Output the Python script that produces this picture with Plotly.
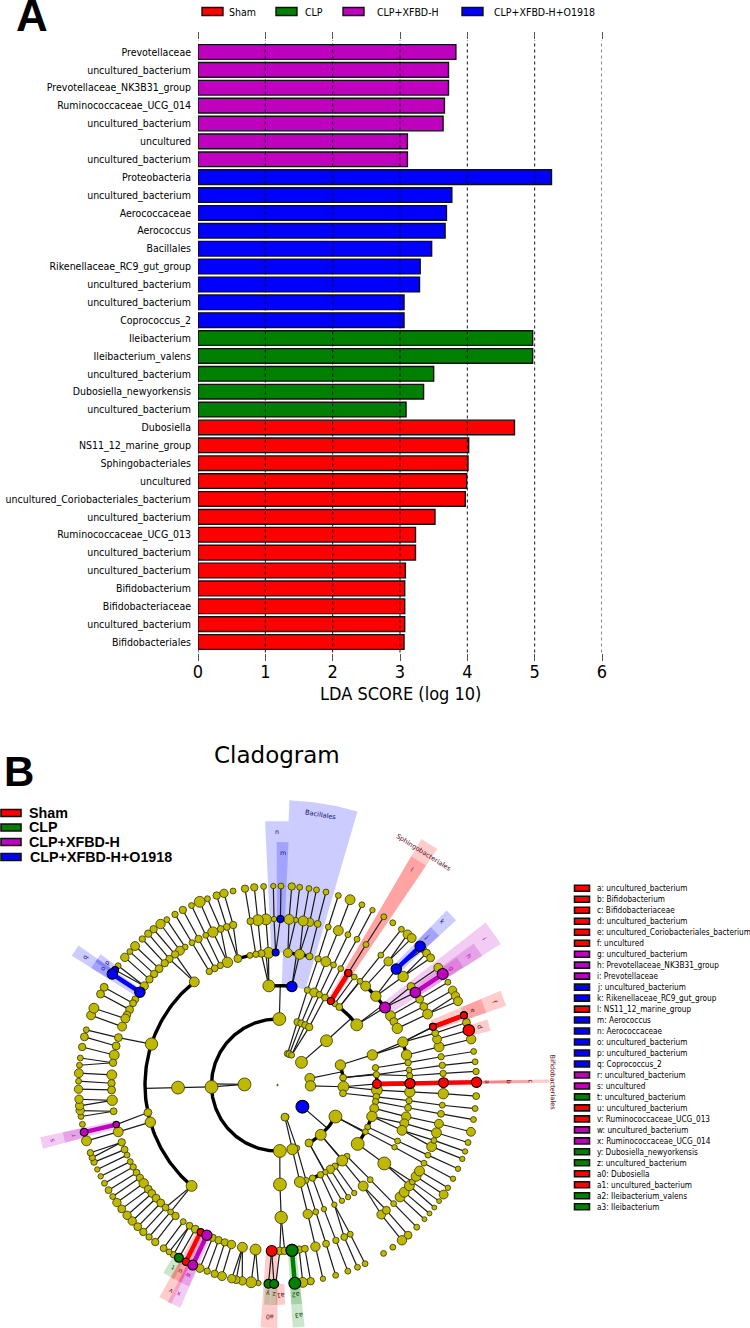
import numpy as np
import plotly.graph_objects as go

# ---------- Panel A data ----------
bar_labels = ["Prevotellaceae","uncultured_bacterium","Prevotellaceae_NK3B31_group","Ruminococcaceae_UCG_014",
 "uncultured_bacterium","uncultured","uncultured_bacterium","Proteobacteria","uncultured_bacterium","Aerococcaceae",
 "Aerococcus","Bacillales","Rikenellaceae_RC9_gut_group","uncultured_bacterium","uncultured_bacterium","Coprococcus_2",
 "Ileibacterium","Ileibacterium_valens","uncultured_bacterium","Dubosiella_newyorkensis","uncultured_bacterium",
 "Dubosiella","NS11_12_marine_group","Sphingobacteriales","uncultured","uncultured_Coriobacteriales_bacterium",
 "uncultured_bacterium","Ruminococcaceae_UCG_013","uncultured_bacterium","uncultured_bacterium","Bifidobacterium",
 "Bifidobacteriaceae","uncultured_bacterium","Bifidobacteriales"]
bar_values = [3.83,3.72,3.72,3.66,3.64,3.11,3.11,5.25,3.77,3.69,3.67,3.47,3.30,3.29,3.06,3.06,4.97,4.97,3.50,3.35,3.09,
 4.70,4.02,4.01,3.99,3.97,3.52,3.23,3.23,3.08,3.07,3.07,3.07,3.06]
bar_groups = ["X"]*7+["O"]*9+["C"]*5+["S"]*13
tick_vals = [0,1,2,3,4,5,6]

group_names = {"S":"Sham","C":"CLP","X":"CLP+XFBD-H","O":"CLP+XFBD-H+O1918"}
group_colors = {"S":"#FF0000","C":"#008000","X":"#BF00BF","O":"#0000FF"}
wedge_colors = {"S":"rgba(255,0,0,0.2)","C":"rgba(0,128,0,0.2)","X":"rgba(191,0,191,0.2)","O":"rgba(0,0,255,0.2)"}
label_colors = {"S":"#5A0A14","C":"#0A3A0A","X":"#C000C0","O":"#10106A"}

# ---------- Panel B data: ring radius, nodes (angle clockwise from top, size) ----------
ring_radius = [0,33,66,99.5,132.5,166,199]
level1_theta = [17.7,21,25.3,46.6,78.4,91.5,165,167,-89]
level1_size  = [5.5,6,5,11,9,9.5,5,7,12]
level2_theta = [1.6,17.5,21,24.8,28.7,47.9,72.4,83.6,91.5,97.2,118.6,139,151.5,163,167,178,-91.7]
level2_size  = [12,6,6,6,6.5,11,9.5,6,10,6,12,10,7,5,10,12,12]
level3_theta = [-5,17.5,21.6,24.9,28.5,35.2,38.4,52.8,72.4,80,84,92.9,96.8,99.6,103.6,108.4,115,118,126.3,135.7,139.4,
 144.7,147.9,151.2,154.4,159.4,163.3,167,178.6,-91.5]
level3_size  = [11,5.5,8,5.5,6,5,6,11,9.5,5.5,5.5,10,6,5.5,8,9.5,5,5,12,5,10,5.5,7.5,4.5,5.5,5.5,5,10,12,12]
level4_theta = [-3.9,-7,-9.4,-12,-17.4,-22.2,-25.6,-28.3,-31,-38.9,4.5,9.6,14,17.8,21.4,25,28.5,35.4,38.5,41.7,47.9,58.5,61.4,64.7,
 71.1,76.9,80.3,83.5,86,93,96.8,99.9,103.8,106.8,110,115,118,126.3,135.6,139.7,144.6,147.8,150.9,154.6,159.5,163.2,166.8,
 178.4,-72,-102,-106.3,-139.6]
level4_size  = [10,6.5,5.5,5,7,9.5,5.5,6,5.5,9,8,9,6,5.5,9,5,5,5,5,9,9.5,9,7,9.5,9.5,9.5,5.5,5,5.5,9.5,5.5,6,8.5,8,9,5,4.5,
 12,5,9,4.5,4.5,4.5,4.5,4.5,5,8.5,11.5,11.5,7,9.5,10]
level5_theta = [-1.2,-4,-6.8,-9.4,-15.5,-17.8,-20,-22.9,-25.6,-28.4,-31,-33.8,-36,-38.1,-40.6,-42.8,-45.5,-48,-50.5,-53.4,-58.9,
 -60.5,-63,-65,-66.4,-69.4,-73.4,-76.4,-79.6,-82.3,-86.5,-89.4,-91.7,-95.3,-99.1,-106.4,-110.2,-112.9,-115,-117.5,-119.6,
 -121.9,-124,-126.3,-128.9,-130.8,-133,-135.3,-137.6,-139.9,-142.1,-145.4,-148,-150.3,-157,-159.2,-161.5,-163.9,-167.8,
 -172.4,179.2,177.5,172.5,170.5,166.8,163,159.4,156.3,154,141.3,139,135.6,132.4,130.2,127.4,125.7,123.4,121.2,118.1,115,
 111.8,109.5,106.7,103.5,100,97,93,86,83.2,80.2,76.7,74,71.8,64.7,61.8,58.9,53.6,49.2,41.9,38.5,32.2,28.6,25.1,21.5,17.8,
 14,11.2,8.9,6.3,4]
level5_size  = [4.5,10,10,6,6.5,6,6,9.5,5,6.5,5,5,8,6.5,6.5,6.5,7,6.5,6.5,7.5,6,6,7,6.5,8,8,7,7,9,6.5,9,6.5,7,9.5,6,9,6.5,6,5,
 5,5.5,6,6.5,8.5,7,7,7,7,6,5,6.5,5,6,7,6.5,6.5,6.5,7.5,9,10,7,6.5,6.5,6,8.5,6,5.5,6,5,8,7,5,9,9,9,5,9,9,5,5,9,5,9,8,6,5,
 9.5,5.5,5.5,5.5,9,8,6,9,7,7,7,9.5,8,5,5,5,5,9,5,6,7.5,9,4.5,9]
level6_theta = [1,4.1,6.4,9.1,11.3,14.1,17.8,21.4,25.1,28.5,32.3,35.4,38.5,40.8,42.4,47,48.5,50.3,53.9,58.9,61.6,63.4,65.1,71.7,
 76.7,80.3,83.3,86.1,93.2,96.8,100,103.6,106.8,109.5,111.8,114.9,118.1,121.1,123.4,125.7,128,130.2,132.4,135.6,139,141.3,
 144.6,147.8,153.9,156.3,159.3,163,166.8,170.4,172.7,-174.5,-172.4,-169.8,-168,-166.7,-163.8,-161.6,-159.3,-157,-148.5,
 -147,-145.1,-142.1,-139.8,-137.6,-135.4,-133.1,-130.9,-128.5,-126.2,-124.1,-121.9,-119.6,-117.3,-115.1,-112.8,-111.4,
 -109.9,-106.3,-101.4,-99.1,-97.4,-96,-94.1,-91.2,-88.9,-86.6,-84.3,-82.2,-79,-76,-73.9,-69.5,-67.3,-62.8,-60.6,-53.2,
 -50.1,-47.9,-45.7,-42.8,-40.5,-38.5,-36,-33.8,-31,-28.4,-25.6,-23,-20.6,-17.8,-15.6,-12.9,-9.4,-6.7,-4,-1.2]
level6_size  = [5,6.5,5,5,5,5,5,9,5,4.5,5,5,5,8,8,6,7,7,8,5,7.5,7.5,8,7,8.5,5,5,5.5,6,5,5,8,5,4.5,4.5,4.5,4.5,4.5,8,4,4,4,4,5,
 7,8.5,5,5,5,5,5,5,4.5,6.5,9,4.5,10,7.5,7,7.5,8,6.5,5.5,7.5,5.5,5,6,6.5,5.5,6.5,7,7.5,7.5,7,7.5,5,6,5,4.5,4.5,5.5,5.5,5.5,
 9,5,5,7.5,7.5,7.5,7.5,5,8,5,5,6.5,7,5,8,9,7,7,5,7.5,5,8,5.5,6.5,6.5,8.5,5,5.5,6.5,5,10,5,6.5,7.5,5,6.5,6.5,5,4.5]

marker_level = [6,5,4,6,6,5,6,5,4,6,5,4,5,4,6,6,5,6,6,5,6,5,6,5,6,5,5,6,6,6,5,6,5,4,3,3,4,3,1]
marker_theta = [89.2,89.2,89.3,69.5,74,69.5,56.1,56.1,54.2,45.8,45.7,32.3,1,-0.8,-54.7,-56.1,-56,-103.7,-150.3,-152.4,-152.6,
 -103.8,-154.8,-154.8,-177.4,-178,175,-179,180.5,175,175,69.5,69.5,89.3,89.4,32.4,32.3,8.3,131][:39]
marker_size  = [9.5,9,9,6,10.5,6,10,9.5,10,9.5,9.5,6,6,6,6,9.5,9.5,7,8,6,6.5,5.5,9,9.5,8,10,11,8,5,11,11,6,6,9,8,6,6,9.5,12][:39]
marker_group = ["S","S","S","S","S","S","X","X","X","O","O","S","O","O","O","O","O","X","C","S","S","X","X","X","C","S","C",
 "C","S","C","C","S","S","S","S","S","S","O","O"][:39]

# arcs: ring level, start angle, end angle, angle of the parent on the inner ring
arc_level  = [2,2,2,3,3,3,3,3,3,4,4,4,4,4,4,4]
arc_start  = [178,118.6,72.4,-5,38.4,108.4,135.7,151.2,84,4.5,41.7,47.9,71.1,-38.9,-17.4,89.3]
arc_end    = [361.6,151.5,83.6,8.3,52.8,126.3,147.9,159.4,89.4,14,47.9,54.2,76.9,-139.6,-12,93]
arc_parent = [-89,131,78.4,1.6,47.9,118.6,139,151.5,83.6,8.3,38.4,52.8,72.4,-91.5,-5,89.4]

# highlighted sectors: group, centre angle, half width, inner radius, outer radius
wedge_group = ["O","O","O","S","S","O","O","X","X","X","S","S","S","S","S","S","O","O","O","X","X",
               "C","S","S","X","X","S","C","C","S","C","C"]
wedge_theta = [9.35,-0.15,1.2,32.2,32.2,45.7,45.7,54.85,56,56.1,69,69,74.2,89.2,89.2,89.2,-56.4,-56.4,-54.7,-103.8,-103.8,
               -150.3,-152.5,-152.5,-154.8,-154.8,-178,-177.3,-179,179.2,175,175]
wedge_half  = [6.95,2.55,1.4,1.9,1.9,1.6,1.6,2.85,1.8,1.5,1.9,1.9,1.5,0.35,0.35,0.35,1.45,1.45,1.2,1.4,1.4,
               1.6,1.4,1.6,1.5,1.6,2,0.8,0.8,1.2,1.4,1.4]
wedge_inner = [99.5,132.5,166,99.5,132.5,166,199,132.5,166,199,166,199,199,99.5,132.5,166,166,199,199,166,199,
               199,199,166,199,166,166,199,199,199,199,166]
wedge_outer = [285,264,243,285,265,243,220,264,242,220,242,221,220,272,252,232,243,220,220,243,220,
               220,220,243,220,243,243,220,220,220,220,243]

wedge_text       = ["Bacillales","n","m","Sphingobacteriales","l","k","j","i","h","g","f","e","d","Bifidobacteriales","c","b","a",
                    "q","o","p","s","r","t","u","v","w","x","a0","y","z","a1","a2","a3"]
wedge_text_group = ["O","O","O","S","S","O","O","X","X","X","S","S","S","S","S","S","S","O","O","O","X","X","C","S","S","X","X","S","C","C","S","C","C"]
wedge_text_theta = [9.2,-0.2,1.3,32.3,32.1,45.3,45.3,54.8,56.2,56.1,69,69,74.1,89.6,89.2,89.2,89.2,-56.3,-56.4,-54.4,-103.7,-103.8,
                    -150.2,-152.4,-152.5,-154.9,-154.7,-178,-177.2,-179,179.1,175,174.8]
wedge_text_r     = [274,253,232,275,254,232,210,253,231,209,233,209,210,275,252.5,231.5,209.5,231,210,210,232,210,210,210,232,210,231,232,209,209,210,210,231]

legend_letters = ["a","b","c","d","e","f","g","h","i","j","k","l","m","n","o","p","q","r","s","t","u","v","w","x","y","z","a0","a1","a2","a3"]
legend_taxa = ["uncultured_bacterium","Bifidobacterium","Bifidobacteriaceae","uncultured_bacterium",
 "uncultured_Coriobacteriales_bacterium","uncultured","uncultured_bacterium","Prevotellaceae_NK3B31_group","Prevotellaceae",
 "uncultured_bacterium","Rikenellaceae_RC9_gut_group","NS11_12_marine_group","Aerococcus","Aerococcaceae","uncultured_bacterium",
 "uncultured_bacterium","Coprococcus_2","uncultured_bacterium","uncultured","uncultured_bacterium","uncultured_bacterium",
 "Ruminococcaceae_UCG_013","uncultured_bacterium","Ruminococcaceae_UCG_014","Dubosiella_newyorkensis","uncultured_bacterium",
 "Dubosiella","uncultured_bacterium","Ileibacterium_valens","Ileibacterium"]
legend_groups = list("SSSSSSXXXOOSOOOOOXXCSSXXCC")+["S","S","C","C"]

# ---------- helpers ----------
W, H = 750, 1328
CX, CY = 277.5, 1085
SIZE_ADD = 0.9
fx = lambda p: p / W
fy = lambda p: 1 - p / H
def polar(r, theta):
    a = np.radians(theta)
    return r * np.sin(a), r * np.cos(a)
def adiff(a, b):
    return abs((a - b + 180) % 360 - 180)

olive_levels = [level1_theta, level2_theta, level3_theta, level4_theta, level5_theta, level6_theta]
olive_sizes = [level1_size, level2_size, level3_size, level4_size, level5_size, level6_size]
level_nodes = {l + 1: list(olive_levels[l]) for l in range(6)}
for l, t in zip(marker_level, marker_theta):
    level_nodes[l].append(t)
level_nodes[0] = []

fig = go.Figure()

# ---------- Panel A ----------
ypos = np.arange(len(bar_labels))
for g in ["S", "C", "X", "O"]:
    idx = [i for i, v in enumerate(bar_groups) if v == g]
    fig.add_trace(go.Bar(
        x=[bar_values[i] for i in idx], y=ypos[idx], orientation="h", width=0.82, name=group_names[g],
        marker=dict(color=group_colors[g], line=dict(color="#111111", width=1.4)),
        showlegend=False, hoverinfo="x+name"))

# ---------- Panel B ----------
for g, t, hw, ri, ro in zip(wedge_group, wedge_theta, wedge_half, wedge_inner, wedge_outer):
    a = np.linspace(t - hw, t + hw, 24)
    x1, y1 = polar(ro, a)
    x0, y0 = polar(ri, a[::-1])
    fig.add_trace(go.Scatter(x=np.r_[x1, x0, x1[0]], y=np.r_[y1, y0, y1[0]], mode="lines", fill="toself",
                             fillcolor=wedge_colors[g], line=dict(width=0), xaxis="x2", yaxis="y2",
                             showlegend=False, hoverinfo="skip"))

marker_key = {(l, t): g for l, t, g in zip(marker_level, marker_theta, marker_group)}
ex, ey = [], []
thick = {g: ([], []) for g in group_colors}
for L in range(2, 7):
    limit = 3.6 if L == 2 else 2.2
    for t in level_nodes[L]:
        parents = level_nodes[L - 1]
        p = min(parents, key=lambda q: adiff(q, t))
        if adiff(p, t) <= limit:
            x0, y0 = polar(ring_radius[L - 1], p)
            x1, y1 = polar(ring_radius[L], t)
            gc = marker_key.get((L, t)); gp = marker_key.get((L - 1, p))
            if gc and gc == gp and adiff(p, t) < 0.8:
                thick[gc][0].extend([x0, x1, None]); thick[gc][1].extend([y0, y1, None])
            else:
                ex.extend([x0, x1, None]); ey.extend([y0, y1, None])
for L, p in zip(arc_level, arc_parent):
    x0, y0 = polar(ring_radius[L - 1], p)
    x1, y1 = polar(ring_radius[L], p)
    ex.extend([x0, x1, None]); ey.extend([y0, y1, None])
fig.add_trace(go.Scatter(x=ex, y=ey, mode="lines", line=dict(color="#1a1a1a", width=1.2), xaxis="x2", yaxis="y2",
                         showlegend=False, hoverinfo="skip"))
ax, ay = [], []
for L, s, e in zip(arc_level, arc_start, arc_end):
    a = np.linspace(s, e, max(3, int(abs(e - s))))
    x, y = polar(ring_radius[L], a)
    ax.extend(list(x) + [None]); ay.extend(list(y) + [None])
fig.add_trace(go.Scatter(x=ax, y=ay, mode="lines", line=dict(color="black", width=3.4), xaxis="x2", yaxis="y2",
                         showlegend=False, hoverinfo="skip"))
for g, (x, y) in thick.items():
    fig.add_trace(go.Scatter(x=x, y=y, mode="lines", line=dict(color=group_colors[g], width=4.5), xaxis="x2", yaxis="y2",
                             showlegend=False, hoverinfo="skip"))

nx, ny, ns = [0.0], [0.0], [1.5]
for l in range(6):
    x, y = polar(ring_radius[l + 1], np.array(olive_levels[l]))
    nx.extend(x); ny.extend(y); ns.extend(np.array(olive_sizes[l]) + SIZE_ADD)
fig.add_trace(go.Scatter(x=nx, y=ny, mode="markers",
                         marker=dict(color="#BFB800", size=ns, opacity=1, line=dict(color="#333300", width=0.8)),
                         xaxis="x2", yaxis="y2", showlegend=False, hoverinfo="skip"))
for g in group_colors:
    idx = [i for i, v in enumerate(marker_group) if v == g]
    x, y = polar(np.array([ring_radius[marker_level[i]] for i in idx]), np.array([marker_theta[i] for i in idx]))
    fig.add_trace(go.Scatter(x=x, y=y, mode="markers", name=group_names[g],
                             marker=dict(color=group_colors[g], size=[marker_size[i] + SIZE_ADD for i in idx], opacity=1,
                                         line=dict(color="black", width=1.1)),
                             xaxis="x2", yaxis="y2", showlegend=False, hoverinfo="name"))

annotations, shapes = [], []
COND = "DejaVu Sans Condensed, Liberation Sans, sans-serif"
DJV = "DejaVu Sans, sans-serif"
ARIAL = "Liberation Sans, Arial, sans-serif"
def note(text, px, py, size, family, color="black", anchor="left", angle=0, valign="middle"):
    annotations.append(dict(text=text, x=fx(px), y=fy(py), xref="paper", yref="paper", showarrow=False,
                            xanchor=anchor, yanchor=valign, font=dict(size=size, family=family, color=color), textangle=angle))
def swatch(x0, x1, y0, y1, color, lw=1.4):
    shapes.append(dict(type="rect", xref="paper", yref="paper", x0=fx(x0), x1=fx(x1), y0=fy(y0), y1=fy(y1),
                       fillcolor=color, line=dict(color="#111111", width=lw)))

for t, g, th, r in zip(wedge_text, wedge_text_group, wedge_text_theta, wedge_text_r):
    x, y = polar(r, th)
    size = 6.6 if len(t) > 2 else 6.4
    annotations.append(dict(text=t, x=x, y=y, xref="x2", yref="y2", showarrow=False, textangle=th,
                            font=dict(size=size, family=DJV, color=label_colors[g])))

# top legend
for g, x0, tx in zip("SCXO", [202, 276, 343, 462], [227, 303, 375, 492]):
    swatch(x0, x0 + 21, 7.5, 15.5, group_colors[g])
    note(group_names[g], tx, 11.7, 10.5, COND)
# left legend of panel B
for g, y, tx in zip("SCXO", [813, 827.5, 842, 857], [27, 27, 27, 28]):
    swatch(1, 21, y - 3.5, y + 3.5, group_colors[g], 1.6)
    note("<b>" + group_names[g] + "</b>", tx, y - 0.5, 14.3, ARIAL)
# right legend of panel B
for i, (l, t, g) in enumerate(zip(legend_letters, legend_taxa, legend_groups)):
    y = 888.3 + i * 10.98
    swatch(574.5, 589.5, y - 3, y + 3, group_colors[g], 1.6)
    note(f"{l}: {t}", 595, y, 8.2, COND)

note("<b>A</b>", 32, 15, 44, ARIAL, anchor="center")
note("<b>B</b>", 18.5, 771, 42, ARIAL, anchor="center")
note("Cladogram", 277, 755, 23, DJV, anchor="center")
note("LDA SCORE (log 10)", 400, 693, 18, COND, anchor="center")

for v in tick_vals:
    shapes.append(dict(type="line", xref="x", yref="y domain", x0=v, x1=v, y0=0, y1=1,
                       line=dict(color="#111111", width=1, dash="dot"), layer="above"))

fig.update_layout(
    width=W, height=H, autosize=False, margin=dict(l=0, r=0, t=0, b=0, autoexpand=False), paper_bgcolor="white", plot_bgcolor="rgba(0,0,0,0)",
    barmode="overlay", annotations=annotations, shapes=shapes,
    xaxis=dict(domain=[fx(198), fx(602)], range=[0, 6], tickvals=tick_vals, ticks="outside", ticklen=7, tickwidth=1,
               tickcolor="#555555", mirror="ticks", showgrid=False, zeroline=False, showline=False, anchor="y", automargin=False,
               ticklabelstandoff=-4, tickfont=dict(size=18, family=COND, color="black")),
    yaxis=dict(domain=[fy(652.5), fy(40)], range=[33.587, -0.671], tickvals=list(ypos), ticktext=bar_labels, ticks="",
               showgrid=False, zeroline=False, showline=False, anchor="x", ticklabelstandoff=6, automargin=False,
               tickfont=dict(size=10.5, family=COND, color="black")),
    xaxis2=dict(domain=[0, 1], range=[-CX, W - CX], visible=False, anchor="y2", fixedrange=True, automargin=False),
    yaxis2=dict(domain=[0, fy(740)], range=[CY - H, CY - 740], visible=False, anchor="x2", fixedrange=True, automargin=False),
)
fig.write_html("out.html", config=dict(displayModeBar=False),
               post_script="document.body.style.margin='0';document.body.style.overflow='hidden';")
